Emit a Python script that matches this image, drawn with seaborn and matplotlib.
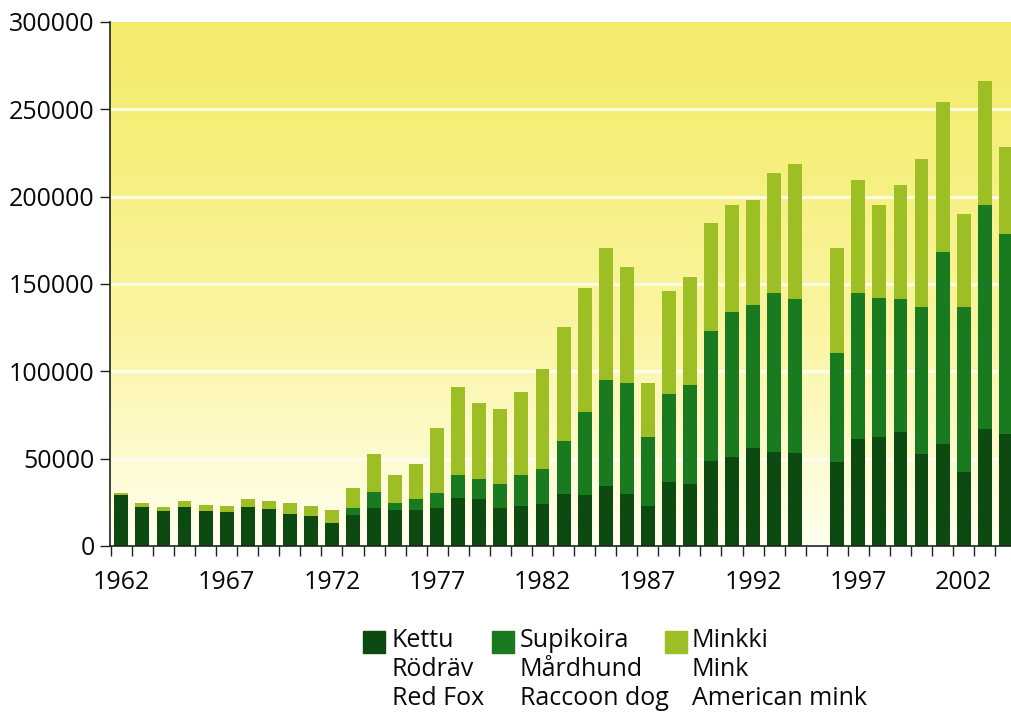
import numpy as np
import pandas as pd
import matplotlib
matplotlib.use("Agg")
import matplotlib.pyplot as plt
import matplotlib.ticker as tkr
from matplotlib.colors import LinearSegmentedColormap
from matplotlib.patches import Rectangle
import seaborn as sns

years = [1962, 1963, 1964, 1965, 1966, 1967, 1968, 1969, 1970, 1971, 1972,
         1973, 1974, 1975, 1976, 1977, 1978, 1979, 1980, 1981, 1982, 1983,
         1984, 1985, 1986, 1987, 1988, 1989, 1990, 1991, 1992, 1993, 1994,
         1996, 1997, 1998, 1999, 2000, 2001, 2002, 2003, 2004]
kettu = [29200, 22150, 20200, 22150, 20200, 19300, 22500, 21350, 18300, 17350, 13350,
         17500, 21600, 20600, 20600, 21600, 27650, 26700, 21600, 22900, 24000, 29800,
         29200, 34350, 29800, 22900, 36500, 35300, 48800, 50800, 56100, 54000, 53100,
         48300, 61300, 62600, 65400, 52500, 58400, 42200, 67000, 64100]
supikoira = [0, 0, 0, 0, 0, 0, 0, 0, 0, 0, 0,
             4000, 9500, 4200, 6100, 8600, 12850, 11800, 13900, 17600, 19900, 30500,
             47500, 60850, 63500, 39700, 50700, 57000, 74500, 83000, 81700, 91000, 88100,
             62000, 83700, 79400, 75800, 84500, 110100, 94800, 128200, 114500]
minkki = [1300, 2300, 2300, 3450, 3300, 3600, 4400, 4550, 6500, 5550, 7450,
          11700, 21600, 15800, 20100, 37200, 50700, 43400, 43100, 47700, 57600, 64900,
          70800, 75200, 66600, 30900, 58800, 61500, 61400, 61400, 60500, 68500, 77500,
          60500, 64700, 53200, 65500, 84400, 85500, 53300, 71200, 49700]

legend_labels = ["Kettu\nRödräv\nRed Fox",
                 "Supikoira\nMårdhund\nRaccoon dog",
                 "Minkki\nMink\nAmerican mink"]
colors = ["#0c4a12", "#197a20", "#9dbf25"]
year_labels = [1962, 1967, 1972, 1977, 1982, 1987, 1992, 1997, 2002]

sns.set_theme(style="white")
plt.rcParams["font.family"] = ["Open Sans", "DejaVu Sans"]

df = pd.DataFrame({"year": years, "kettu": kettu,
                   "supikoira": supikoira, "minkki": minkki})
df["level2"] = df["kettu"] + df["supikoira"]
df["total"] = df["level2"] + df["minkki"]

fig = plt.figure(figsize=(10.11, 7.15), dpi=100)
ax = fig.add_axes([0.1088, 0.2364, 0.8912, 0.7329])

x0, x1 = 1961.46, 2004.25
ymax = 300000

# yellow gradient background
grad = np.linspace(0, 1, 256).reshape(-1, 1)
cmap = LinearSegmentedColormap.from_list(
    "bg", [(0.0, "#fffff0"), (0.12, "#fefcd8"), (0.4, "#fbf5a4"), (0.75, "#f6ef7c"), (1.0, "#f3eb6a")])
ax.imshow(grad, extent=[x0, x1, 0, ymax], origin="lower", aspect="auto",
          cmap=cmap, zorder=0, interpolation="bicubic")
for yv in [50000, 100000, 150000, 200000, 250000]:
    ax.axhline(yv, color="white", lw=2.2, alpha=0.8, zorder=0.5)

for col, c in zip(["total", "level2", "kettu"], [colors[2], colors[1], colors[0]]):
    sns.barplot(data=df, x="year", y=col, native_scale=True, width=0.66,
                color=c, saturation=1, errorbar=None, ax=ax, zorder=2, linewidth=0)

ax.set_xlim(x0, x1)
ax.set_ylim(0, ymax)
ax.set_xlabel("")
ax.set_ylabel("")

ax.xaxis.set_major_locator(tkr.FixedLocator(year_labels))
ax.xaxis.set_major_formatter(tkr.FuncFormatter(lambda v, p: f"{int(v)}"))
ax.xaxis.set_minor_locator(tkr.FixedLocator(np.arange(1961.5, 2005, 1.0)))
ax.yaxis.set_major_locator(tkr.MultipleLocator(50000))
ax.yaxis.set_major_formatter(tkr.FuncFormatter(lambda v, p: f"{int(v)}"))

ax.tick_params(axis="x", which="major", length=0, pad=17, labelsize=18, labelcolor="#0a0a0a")
ax.tick_params(axis="x", which="minor", length=7, width=1, color="#222222", direction="out", bottom=True)
ax.tick_params(axis="y", which="major", length=7, width=1, color="#222222", direction="out",
               left=True, pad=4, labelsize=18, labelcolor="#0a0a0a")

for s in ["top", "right"]:
    ax.spines[s].set_visible(False)
for s in ["left", "bottom"]:
    ax.spines[s].set_color("#222222")
    ax.spines[s].set_linewidth(1.2)
ax.grid(False)

# legend below the chart
W, H = 1011, 715
sq_x = [363, 492, 665]
txt_x = [392, 520, 692]
for c, sx, tx, lab in zip(colors, sq_x, txt_x, legend_labels):
    fig.patches.append(Rectangle((sx / W, 1 - 653 / H), 22 / W, 22 / H,
                                 transform=fig.transFigure, color=c))
    fig.text(tx / W, 1 - 628 / H, lab, fontsize=18, va="top", ha="left",
             color="#0a0a0a", linespacing=1.2)

fig.savefig("out.png", dpi=100)
